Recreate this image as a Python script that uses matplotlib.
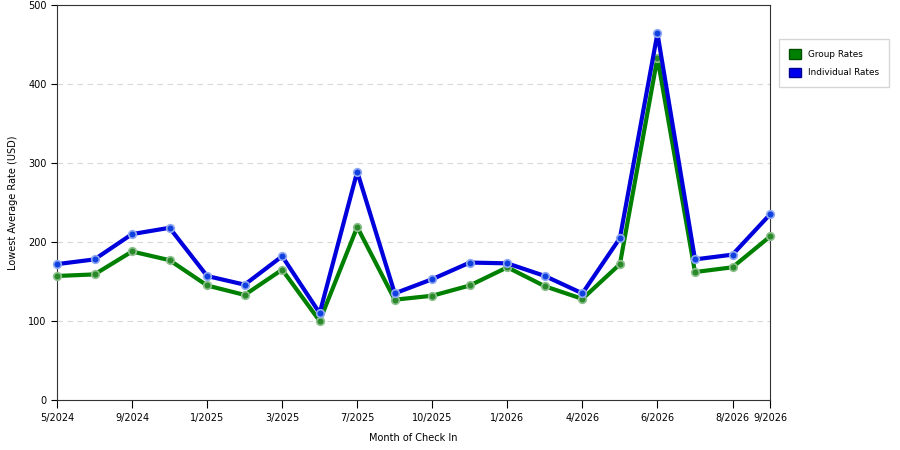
import numpy as np
import matplotlib.pyplot as plt
from matplotlib.patches import Patch

months = ["5/2024", "", "9/2024", "", "1/2025", "", "3/2025", "", "7/2025", "",
          "10/2025", "", "1/2026", "", "4/2026", "", "6/2026", "", "8/2026", "9/2026"]
group_rates = [157, 159, 188, 177, 145, 133, 165, 100, 219, 127,
               132, 145, 168, 144, 128, 172, 433, 162, 168, 207]
individual_rates = [172, 178, 210, 218, 157, 146, 182, 110, 289, 135,
                    153, 174, 173, 157, 135, 205, 464, 178, 184, 235]

x = np.arange(len(months))

fig = plt.figure(figsize=(9, 4.5), dpi=100)
ax = fig.add_axes([0.0633, 0.111, 0.7923, 0.878])

ax.plot(x, group_rates, color='#008000', lw=3, marker='o', ms=5.5,
        mfc='#2a8a2a', mec='#8fc08f', mew=1.2, zorder=3, clip_on=False)
ax.plot(x, individual_rates, color='#0000dd', lw=3, marker='o', ms=5.5,
        mfc='#1040e0', mec='#8fa8f0', mew=1.2, zorder=4, clip_on=False)

ax.set_xlim(0, len(months) - 1)
ax.set_ylim(0, 500)
ticks = [i for i, m in enumerate(months) if m]
ax.set_xticks(ticks)
ax.set_xticklabels([months[i] for i in ticks], fontsize=7)
ax.set_yticks([0, 100, 200, 300, 400, 500])
ax.tick_params(axis='y', labelsize=7, length=4)
ax.tick_params(axis='x', length=6)
ax.yaxis.grid(True, ls=(0, (5, 4)), color='#d8d8d8', lw=0.8)
ax.set_axisbelow(True)
for s in ax.spines.values():
    s.set_color('#333333')

ax.set_xlabel('Month of Check In', fontsize=7, labelpad=7)
ax.set_ylabel('Lowest Average Rate (USD)', fontsize=7)
ax.yaxis.set_label_coords(-0.055, 0.5)

handles = [Patch(facecolor='#008000', edgecolor='#005000', label='Group Rates'),
           Patch(facecolor='#0000ee', edgecolor='#000090', label='Individual Rates')]
fig.legend(handles=handles, loc='upper left', bbox_to_anchor=(0.866, 0.913),
           borderaxespad=0, fontsize=6.4, frameon=True, fancybox=False,
           edgecolor='#cccccc', handlelength=1.3, handleheight=1.3,
           borderpad=1.1, labelspacing=1.0)

fig.savefig('out.png', dpi=100)
